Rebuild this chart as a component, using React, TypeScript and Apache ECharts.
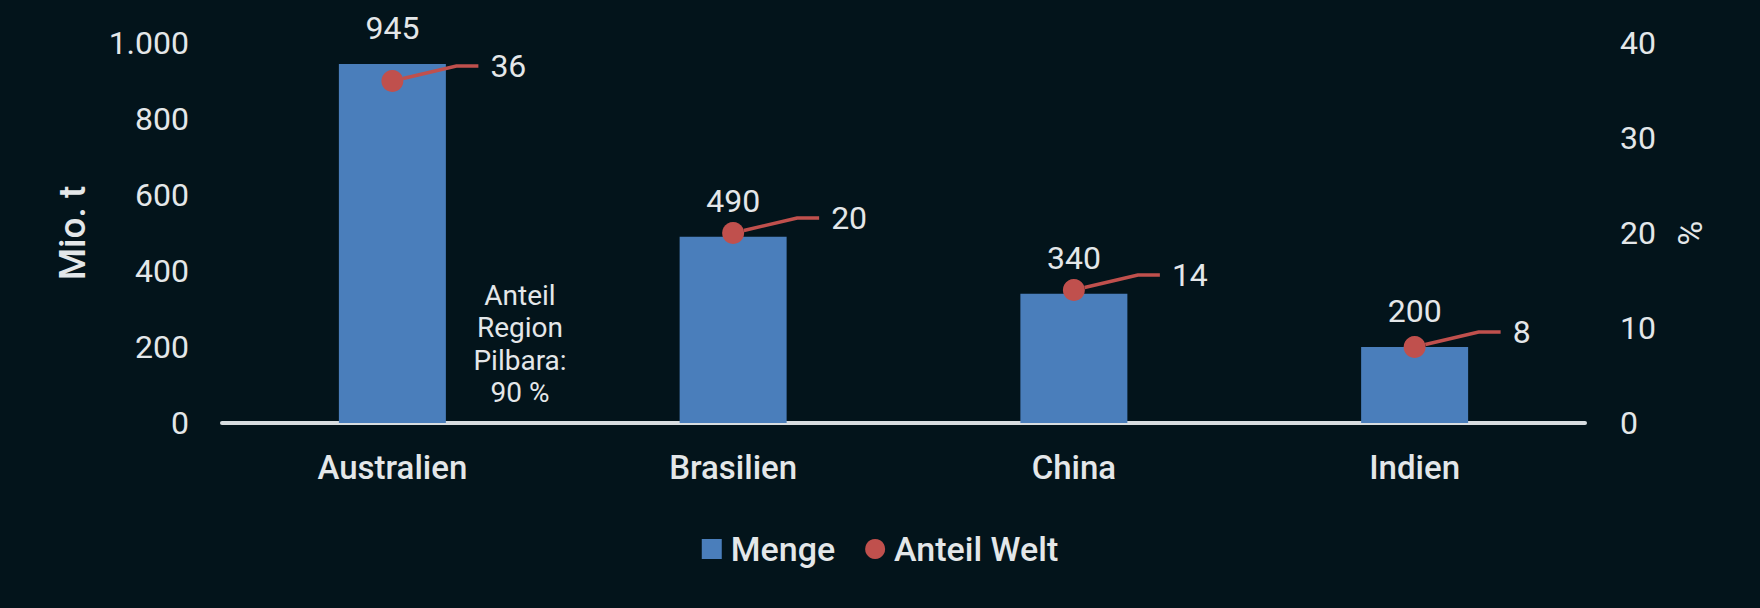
import React, { useEffect, useRef } from 'react';
import * as echarts from 'echarts';

// Kategorien und Werte
const categories = ['Australien', 'Brasilien', 'China', 'Indien'];
const mengeValues = [945, 490, 340, 200]; // Mio. t
const anteilWelt = [36, 20, 14, 8]; // %
const noteLines = ['Anteil', 'Region', 'Pilbara:', '90 %'];

const BG = '#03141b';
const TEXT = '#e4e7e9';
const BLUE = '#4a7ebb';
const RED = '#c0504d';

const App: React.FC = () => {
  const chartRef = useRef<HTMLDivElement>(null);

  useEffect(() => {
    document.body.style.margin = '0';
    document.body.style.background = BG;
    if (!chartRef.current) return;
    const chart = echarts.init(chartRef.current, null, { renderer: 'svg' });

    const option = {
      animation: false,
      backgroundColor: BG,
      textStyle: { fontFamily: 'Roboto', color: TEXT },
      grid: { left: 222, right: 175, top: 43, bottom: 185 },
      legend: {
        left: 'center',
        top: 527,
        itemWidth: 20,
        itemHeight: 20,
        itemGap: 30,
        textStyle: { color: TEXT, fontSize: 34, fontWeight: 500, fontFamily: 'Roboto', padding: [0, 0, 0, 4] },
        data: [
          { name: 'Menge', icon: 'rect' },
          { name: 'Anteil Welt', icon: 'circle' }
        ]
      },
      xAxis: {
        type: 'category',
        data: categories,
        axisLine: { show: true, lineStyle: { color: '#d8dde0', width: 4 } },
        axisTick: { show: false },
        axisLabel: { color: TEXT, fontSize: 33, fontWeight: 500, margin: 28, fontFamily: 'Roboto' }
      },
      yAxis: [
        {
          type: 'value',
          min: 0,
          max: 1000,
          interval: 200,
          name: 'Mio. t',
          nameLocation: 'middle',
          nameRotate: 90,
          nameGap: 131,
          nameTextStyle: { color: TEXT, fontSize: 37, fontWeight: 500, fontFamily: 'Roboto' },
          axisLine: { show: false },
          axisTick: { show: false },
          splitLine: { show: false },
          axisLabel: {
            color: TEXT,
            fontSize: 32,
            margin: 33,
            fontFamily: 'Roboto',
            formatter: (v: number) => (v >= 1000 ? (v / 1000).toFixed(0) + '.' + String(v % 1000).padStart(3, '0') : String(v))
          }
        },
        {
          type: 'value',
          min: 0,
          max: 40,
          interval: 10,
          name: '%',
          nameLocation: 'middle',
          nameRotate: -90,
          nameGap: 88,
          nameTextStyle: { color: TEXT, fontSize: 34, fontFamily: 'Roboto' },
          axisLine: { show: false },
          axisTick: { show: false },
          splitLine: { show: false },
          axisLabel: { color: TEXT, fontSize: 32, margin: 35, fontFamily: 'Roboto' }
        }
      ],
      series: [
        {
          name: 'Menge',
          type: 'bar',
          data: mengeValues,
          barWidth: 107,
          itemStyle: { color: BLUE },
          label: {
            show: true,
            position: 'top',
            distance: 20,
            color: TEXT,
            fontSize: 32,
            fontFamily: 'Roboto'
          }
        },
        {
          name: 'Anteil Welt',
          type: 'scatter',
          yAxisIndex: 1,
          data: anteilWelt,
          symbol: 'circle',
          symbolSize: 22,
          z: 5,
          itemStyle: { color: RED, opacity: 1 },
          label: {
            show: true,
            position: 'right',
            color: TEXT,
            opacity: 1,
            fontSize: 32,
            fontFamily: 'Roboto',
            backgroundColor: 'rgba(0,0,0,0)',
            padding: [0, 0, 0, 12]
          },
          labelLayout: { dx: 70, dy: -15 },
          labelLine: {
            show: true,
            length2: 22,
            lineStyle: { color: RED, width: 3.5, opacity: 1 }
          }
        }
      ],
      graphic: [
        {
          type: 'text',
          x: 520,
          y: 279,
          style: {
            text: noteLines.join('\n'),
            fill: TEXT,
            font: '28px Roboto',
            lineHeight: 32.5,
            align: 'center'
          }
        }
      ]
    };

    chart.setOption(option);
    return () => {
      chart.dispose();
    };
  }, []);

  return <div ref={chartRef} style={{ width: 1760, height: 608 }} />;
};

export default App;
